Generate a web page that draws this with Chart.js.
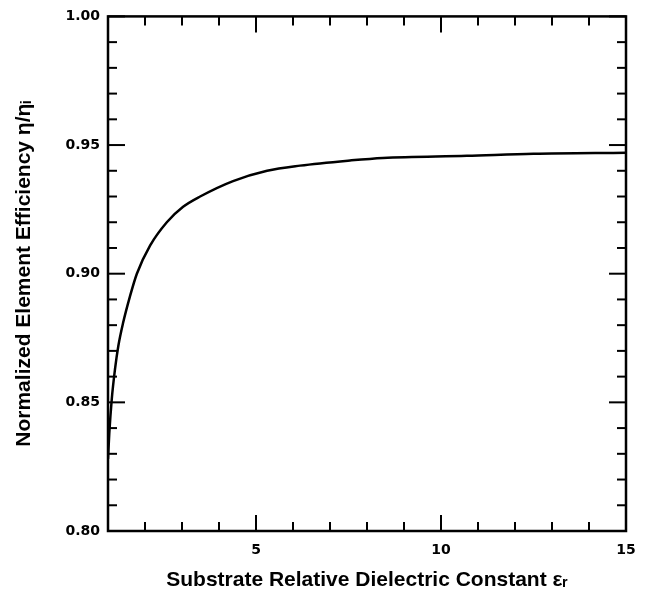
<!DOCTYPE html>
<html>
<head>
<meta charset="utf-8">
<script src="https://cdn.jsdelivr.net/npm/chart.js@4.4.1/dist/chart.umd.min.js"></script>
<style>
  html, body { margin: 0; padding: 0; background: #fff; }
  #wrap { width: 652px; height: 594px; }
</style>
</head>
<body>
<div id="wrap"><canvas id="chart"></canvas></div>
<script>
// substrate relative dielectric constant (x) and normalized element efficiency (y)
const permittivity = [1.0, 1.035, 1.10, 1.19, 1.28, 1.41, 1.59, 1.78, 2.14, 2.59, 3.03, 3.49, 4.38, 5.3, 6.19, 7.54, 8.43, 10.7, 12.5, 15.0];
const efficiency   = [0.828, 0.838, 0.851, 0.863, 0.872, 0.881, 0.891, 0.900, 0.911, 0.920, 0.926, 0.930, 0.936, 0.940, 0.942, 0.944, 0.945, 0.9458, 0.9466, 0.947];

const xTickLabels = [5, 10, 15];
const yTickLabels = [0.80, 0.85, 0.90, 0.95, 1.00];
const xMinorTicks = [2, 3, 4, 6, 7, 8, 9, 11, 12, 13, 14];
const yMinorTicks = [0.81, 0.82, 0.83, 0.84, 0.86, 0.87, 0.88, 0.89, 0.91, 0.92, 0.93, 0.94, 0.96, 0.97, 0.98, 0.99];

const xTitle = 'Substrate Relative Dielectric Constant \u03b5\u1d63';
const yTitle = 'Normalized Element Efficiency \u03b7/\u03b7\u1d62';

const TICK_FONT = '"DejaVu Sans", "Liberation Sans", sans-serif';
const TITLE_FONT = '"Liberation Sans", Arial, "DejaVu Sans", sans-serif';

// box around the plot with inward ticks on all four sides
const frameTicks = {
  id: 'frameTicks',
  afterDatasetsDraw(chart) {
    const { ctx, chartArea: a, scales: { x, y } } = chart;
    ctx.save();
    ctx.strokeStyle = '#000';
    ctx.lineWidth = 2.5;
    ctx.strokeRect(a.left, a.top, a.right - a.left, a.bottom - a.top);
    ctx.lineWidth = 2;
    const line = (x1, y1, x2, y2) => {
      ctx.beginPath();
      ctx.moveTo(x1, y1);
      ctx.lineTo(x2, y2);
      ctx.stroke();
    };
    const xTicks = xMinorTicks.map(v => [v, 9]).concat(xTickLabels.map(v => [v, 16]));
    xTicks.forEach(([v, len]) => {
      const px = x.getPixelForValue(v);
      line(px, a.bottom, px, a.bottom - len);
      line(px, a.top, px, a.top + len);
    });
    const yTicks = yMinorTicks.map(v => [v, 9]).concat(yTickLabels.map(v => [v, 17]));
    yTicks.forEach(([v, len]) => {
      const py = y.getPixelForValue(v);
      line(a.left, py, a.left + len, py);
      line(a.right, py, a.right - len, py);
    });
    ctx.restore();
  }
};

new Chart(document.getElementById('chart'), {
  type: 'scatter',
  data: {
    datasets: [{
      data: permittivity.map((v, i) => ({ x: v, y: efficiency[i] })),
      showLine: true,
      borderColor: '#000',
      borderWidth: 2.5,
      pointRadius: 0,
      cubicInterpolationMode: 'monotone',
      fill: false
    }]
  },
  options: {
    responsive: true,
    maintainAspectRatio: false,
    animation: false,
    layout: { padding: { top: 16, right: 26, left: 0, bottom: 0 } },
    plugins: {
      legend: { display: false },
      tooltip: { enabled: false }
    },
    scales: {
      x: {
        type: 'linear',
        min: 1,
        max: 15,
        afterBuildTicks: s => { s.ticks = xTickLabels.map(v => ({ value: v })); },
        afterFit: s => { s.height = 63; },
        grid: { display: false, drawTicks: false },
        border: { display: false },
        ticks: {
          color: '#000',
          padding: 11,
          maxRotation: 0,
          font: { family: TICK_FONT, size: 14, weight: 'bold' }
        },
        title: {
          display: true,
          text: xTitle,
          color: '#000',
          padding: { top: 0, bottom: 1 },
          font: { family: TITLE_FONT, size: 21, weight: 'bold' }
        }
      },
      y: {
        min: 0.80,
        max: 1.00,
        afterBuildTicks: s => { s.ticks = yTickLabels.map(v => ({ value: v })); },
        afterFit: s => { s.width = 108; },
        grid: { display: false, drawTicks: false },
        border: { display: false },
        ticks: {
          color: '#000',
          padding: 8,
          callback: v => v.toFixed(2),
          font: { family: TICK_FONT, size: 14, weight: 'bold' }
        },
        title: {
          display: true,
          text: yTitle,
          color: '#000',
          padding: { top: 12, bottom: 0 },
          font: { family: TITLE_FONT, size: 21, weight: 'bold' }
        }
      }
    }
  },
  plugins: [frameTicks]
});
</script>
</body>
</html>
